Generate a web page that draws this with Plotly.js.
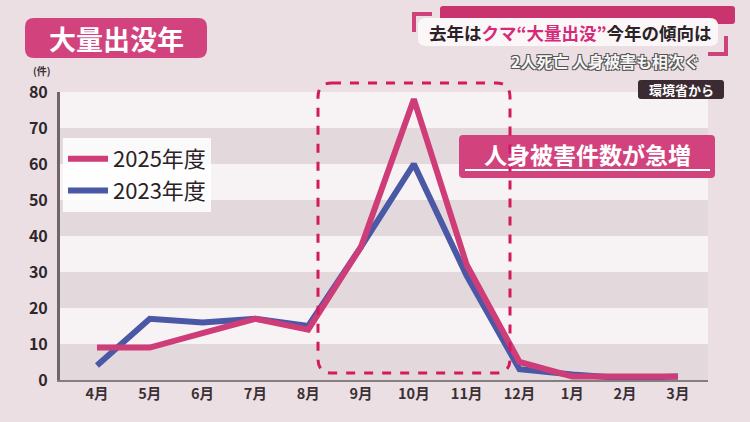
<!DOCTYPE html>
<html>
<head>
<meta charset="utf-8">
<script src="https://cdn.plot.ly/plotly-3.0.1.min.js"></script>
<style>
html,body{margin:0;padding:0;background:#ecdfe3;}
#chart{width:750px;height:422px;}
</style>
</head>
<body>
<div id="chart"></div>
<script>
// ---- data ----
var months = ['4月','5月','6月','7月','8月','9月','10月','11月','12月','1月','2月','3月'];
var fy2025 = [9, 9, 13, 17, 14, 37, 78, 32, 5, 1, 1, 1];
var fy2023 = [4, 17, 16, 17, 15, 37, 60, 29, 3, 1.5, 0.5, 1];
var seriesNames = ['2025年度', '2023年度'];
var yTicks = [0, 10, 20, 30, 40, 50, 60, 70, 80];

// ---- layout helpers (pixel -> paper) ----
var W = 750, H = 422;
var M = {l: 60, r: 42, t: 92, b: 42};
var PW = W - M.l - M.r, PH = H - M.t - M.b;
function px(x){ return (x - M.l) / PW; }
function py(y){ return (H - M.b - y) / PH; }
function roundRect(x0, y0, x1, y1, r){
  var rx = r / PW, ry = r / PH;
  var a = px(x0), b = px(x1), t = py(y0), u = py(y1);
  return 'M' + (a+rx) + ',' + t + ' L' + (b-rx) + ',' + t +
    ' Q' + b + ',' + t + ' ' + b + ',' + (t-ry) +
    ' L' + b + ',' + (u+ry) + ' Q' + b + ',' + u + ' ' + (b-rx) + ',' + u +
    ' L' + (a+rx) + ',' + u + ' Q' + a + ',' + u + ' ' + a + ',' + (u+ry) +
    ' L' + a + ',' + (t-ry) + ' Q' + a + ',' + t + ' ' + (a+rx) + ',' + t + ' Z';
}
function pshape(path, fill, line){
  var s = {type:'path', xref:'paper', yref:'paper', path:path, layer:'above'};
  s.fillcolor = fill || 'rgba(0,0,0,0)';
  s.line = line || {width:0};
  return s;
}
function ann(text, x, y, size, color, extra){
  var a = {xref:'paper', yref:'paper', x:px(x), y:py(y), text:text, showarrow:false,
    xanchor:'center', yanchor:'middle',
    font:{family:'Noto Sans CJK JP', size:size, color:color, weight:'bold'}};
  if (extra) for (var k in extra) a[k] = extra[k];
  return a;
}

var FONT = 'Noto Sans CJK JP, Noto Sans, sans-serif';
var PINK = '#cf3d78', BLUE = '#4a58a6';

var traces = [
  {x: months, y: fy2023, name: seriesNames[1], type:'scatter', mode:'lines',
   line:{color:BLUE, width:6, shape:'linear'}, hoverinfo:'skip'},
  {x: months, y: fy2025, name: seriesNames[0], type:'scatter', mode:'lines',
   line:{color:PINK, width:6, shape:'linear'}, hoverinfo:'skip'}
];

var shapes = [];
// white bands
[10, 30, 50, 70].forEach(function(v){
  shapes.push({type:'rect', xref:'paper', yref:'y', x0:0, x1:1, y0:v, y1:v+10,
    fillcolor:'#f7f3f4', line:{width:0}, layer:'below'});
});
// title box
shapes.push(pshape(roundRect(25, 18, 207, 58, 9), '#d2437e'));
// top-right headline
shapes.push(pshape(roundRect(440, 6, 735, 24, 3), '#c9346f'));
shapes.push(pshape(roundRect(418, 18, 718, 46, 8), '#fbf7f8'));
shapes.push(pshape('M' + px(414) + ',' + py(32) + ' L' + px(414) + ',' + py(14) + ' L' + px(432) + ',' + py(14), null, {color:'#d0407a', width:4}));
shapes.push(pshape('M' + px(708) + ',' + py(54) + ' L' + px(726) + ',' + py(54) + ' L' + px(726) + ',' + py(36), null, {color:'#d0407a', width:4}));
// source box
shapes.push(pshape(roundRect(638, 80, 724, 99, 3), '#3b2a31'));
// callout box
shapes.push(pshape(roundRect(459, 135, 715, 178, 4), '#d2437e'));
shapes.push(pshape('M' + px(465) + ',' + py(170) + ' L' + px(710) + ',' + py(170), null, {color:'#ffffff', width:2}));
// dashed highlight box
shapes.push(pshape(roundRect(318, 83, 510, 373, 14), null, {color:'#d21a5c', width:3, dash:'dash'}));

var annotations = [
  ann('大量出没年', 116, 38, 27, '#ffffff'),
  ann('去年は<span style="color:#d62a78">クマ“大量出没”</span>今年の傾向は', 570, 33, 17.5, '#2a2226'),
  ann('2人死亡 人身被害も相次ぐ', 605, 61, 16, '#f4f4f4',
      {font:{family:'Noto Sans CJK JP', size:16, color:'#f6f6f6', weight:'bold',
        shadow:'-1px -1px 0 #555, 1px -1px 0 #555, -1px 1px 0 #555, 1px 1px 0 #555'}}),
  ann('環境省から', 681, 89.5, 13, '#ffffff'),
  ann('人身被害件数が急増', 587, 154, 23, '#ffffff'),
  ann('(件)', 42, 70, 10, '#3a3035')
];

var layout = {
  width: W, height: H,
  margin: M,
  paper_bgcolor: '#ecdfe3',
  plot_bgcolor: '#e3d9dc',
  font: {family: FONT, color:'#3a3035'},
  showlegend: true,
  legend: {
    x: px(63), y: py(138), xanchor:'left', yanchor:'top',
    bgcolor:'rgba(255,255,255,0.85)', borderwidth:0,
    traceorder:'reversed',
    font:{family: FONT, size:22, color:'#2a2226'},
    itemwidth: 40, tracegroupgap: 0
  },
  xaxis: {
    type:'category', range:[-0.7, 11.57],
    showgrid:false, zeroline:false,
    showline:true, linecolor:'#857d80', linewidth:2,
    ticks:'', tickfont:{family:FONT, size:14.5, color:'#3a3035', weight:'bold'},
    fixedrange:true
  },
  yaxis: {
    range:[0, 80], tickvals: yTicks, ticktext: yTicks.map(String),
    showgrid:false, zeroline:false,
    showline:true, linecolor:'#6e6668', linewidth:3,
    ticks:'', ticklabelstandoff: 6,
    tickfont:{family:FONT, size:16, color:'#2f272b', weight:'bold'},
    fixedrange:true
  },
  shapes: shapes,
  annotations: annotations
};

Plotly.newPlot('chart', traces, layout, {staticPlot:true, displayModeBar:false});
</script>
</body>
</html>
